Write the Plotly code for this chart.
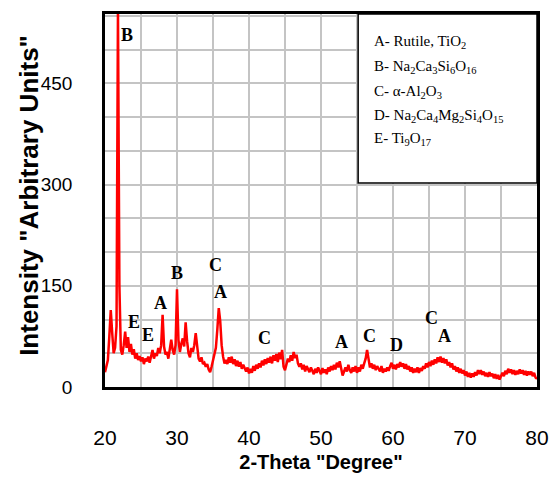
import plotly.graph_objects as go

# XRD scan: 2-theta from 20 to 80 degrees, 0.2 degree step
scan_start = 20.0
scan_step = 0.2
intensity = [
    22, 30, 40, 75, 114,      # 20.0 - 20.8
    80, 50, 58, 90, 560,      # 21.0 - 21.8
    150, 55, 48, 62, 82,      # 22.0 - 22.8
    58, 74, 52, 64, 48,       # 23.0 - 23.8
    56, 42, 50, 40, 46,       # 24.0 - 24.8
    38, 44, 34, 42, 38,       # 25.0
    45, 36, 48, 55, 42,       # 26.0
    50, 46, 58, 50, 62,       # 27.0
    107, 60, 48, 52, 42,      # 28.0
    58, 70, 55, 48, 62,       # 29.0
    145, 70, 52, 64, 72,      # 30.0
    60, 96, 68, 50, 44,       # 31.0
    58, 52, 62, 80, 58,       # 32.0
    42, 38, 44, 34, 36,       # 33.0
    30, 34, 26, 22, 30,       # 34.0
    40, 48, 58, 85, 117,      # 35.0
    98, 62, 45, 35, 40,       # 36.0
    34, 44, 36, 45, 34,       # 37.0
    41, 31, 39, 30, 37,       # 38.0
    27, 33, 29, 23, 29,       # 39.0
    20, 27, 21, 31, 24,       # 40.0
    33, 27, 35, 29, 39,       # 41.0
    32, 41, 34, 43, 36,       # 42.0
    45, 35, 47, 39, 49,       # 43.0
    37, 51, 41, 55, 30,       # 44.0
    25, 35, 42, 37, 47,       # 45.0
    39, 52, 43, 48, 35,       # 46.0
    30, 35, 26, 33, 23,       # 47.0
    31, 25, 22, 29, 23,       # 48.0
    19, 27, 21, 29, 24,       # 49.0
    19, 28, 21, 26, 19,       # 50.0
    29, 23, 31, 25, 33,       # 51.0
    26, 36, 29, 38, 24,       # 52.0
    17, 23, 29, 23, 33,       # 53.0
    25, 21, 29, 23, 31,       # 54.0
    21, 29, 23, 33, 27,       # 55.0
    35, 42, 55, 40, 29,       # 56.0
    35, 27, 33, 25, 31,       # 57.0
    27, 23, 31, 21, 27,       # 58.0
    23, 29, 24, 31, 36,       # 59.0
    27, 33, 26, 34, 29,       # 60.0
    37, 30, 35, 27, 34,       # 61.0
    26, 31, 23, 29, 21,       # 62.0
    27, 22, 29, 21, 28,       # 63.0
    24, 31, 27, 35, 29,       # 64.0
    37, 31, 39, 33, 41,       # 65.0
    35, 44, 37, 45, 36,       # 66.0
    43, 35, 41, 32, 37,       # 67.0
    29, 35, 26, 31, 23,       # 68.0
    29, 21, 27, 20, 25,       # 69.0
    17, 23, 15, 21, 14,       # 70.0
    20, 15, 22, 17, 25,       # 71.0
    19, 25, 18, 23, 16,       # 72.0
    21, 15, 22, 16, 20,       # 73.0
    13, 19, 12, 18, 11,       # 74.0
    17, 21, 16, 24, 19,       # 75.0
    27, 21, 26, 19, 25,       # 76.0
    18, 24, 19, 26, 20,       # 77.0
    25, 18, 24, 17, 23,       # 78.0
    18, 23, 16, 21, 14,       # 79.0
    12,                       # 80.0
]
two_theta = [round(scan_start + scan_step * i, 1) for i in range(len(intensity))]

# Phase labels placed above their reflections
peak_letters = ["B", "E", "E", "A", "B", "C", "A", "C", "A", "C", "D", "C", "A"]
peak_x = [23.1, 24.0, 26.0, 27.7, 29.95, 35.4, 36.1, 42.2, 52.9, 56.7, 60.5, 65.4, 67.2]
peak_y = [522, 97, 77, 124, 169, 181, 141, 73, 67, 75, 62, 102, 75]

# Phase key
phase_key = [
    "A- Rutile, TiO<sub>2</sub>",
    "B- Na<sub>2</sub>Ca<sub>3</sub>Si<sub>6</sub>O<sub>16</sub>",
    "C- α-Al<sub>2</sub>O<sub>3</sub>",
    "D- Na<sub>2</sub>Ca<sub>4</sub>Mg<sub>2</sub>Si<sub>4</sub>O<sub>15</sub>",
    "E- Ti<sub>9</sub>O<sub>17</sub>",
]

x_ticks = [20, 30, 40, 50, 60, 70, 80]
y_ticks = [0, 150, 300, 450]

fig = go.Figure()
fig.add_trace(go.Scatter(
    x=two_theta, y=intensity, mode="lines",
    line=dict(color="#ff0000", width=2.5),
    showlegend=False, hoverinfo="skip",
))

serif = "Liberation Serif, Times New Roman, serif"
sans = "Liberation Sans, Arial, sans-serif"

for letter, px_, py_ in zip(peak_letters, peak_x, peak_y):
    fig.add_annotation(x=px_, y=py_, text=f"<b>{letter}</b>", showarrow=False,
                       font=dict(family=serif, size=18, color="black"))

# key box in the top-right corner
fig.add_shape(type="rect", xref="paper", yref="paper",
              x0=0.586, x1=1.0, y0=0.547, y1=1.0,
              fillcolor="white", line=dict(color="black", width=1.5), layer="above")
key_y = [345, 320, 295, 271, 248]
for txt, yy in zip(phase_key, key_y):
    fig.add_annotation(xref="paper", yref="paper", x=0.618, y=yy / 373,
                       xanchor="left", yanchor="middle", text=txt, showarrow=False,
                       font=dict(family=serif, size=15, color="black"))

# vertical axis title
fig.add_annotation(xref="paper", yref="paper", x=-0.176, y=0.515,
                   text="<b>Intensity \"Arbitrary Units\"</b>", textangle=-90,
                   showarrow=False, xanchor="center", yanchor="middle",
                   font=dict(family=sans, size=26, color="black"))

grid = "#c4c4c4"
fig.update_layout(
    width=550, height=481,
    margin=dict(l=105, r=13, t=14, b=94),
    paper_bgcolor="white", plot_bgcolor="white",
    xaxis=dict(
        range=[20, 80], tickvals=x_ticks, ticks="", showgrid=True,
        gridcolor=grid, gridwidth=2,
        minor=dict(dtick=5, showgrid=True, gridcolor=grid, gridwidth=2, ticks=""),
        showline=True, linecolor="black", linewidth=2.5, mirror=True,
        zeroline=False, ticklabelstandoff=30, automargin=False,
        tickfont=dict(family=sans, size=21, color="black"),
        title=dict(text="<b>2-Theta \"Degree\"</b>", standoff=8,
                   font=dict(family=sans, size=20, color="black")),
    ),
    yaxis=dict(
        range=[0, 553], tickvals=y_ticks, ticks="", showgrid=True,
        gridcolor=grid, gridwidth=2,
        minor=dict(dtick=50, showgrid=True, gridcolor=grid, gridwidth=2, ticks=""),
        showline=True, linecolor="black", linewidth=2.5, mirror=True,
        zeroline=False, ticklabelstandoff=26, automargin=False,
        tickfont=dict(family=sans, size=19, color="black"),
    ),
)

fig.write_html("out.html")
